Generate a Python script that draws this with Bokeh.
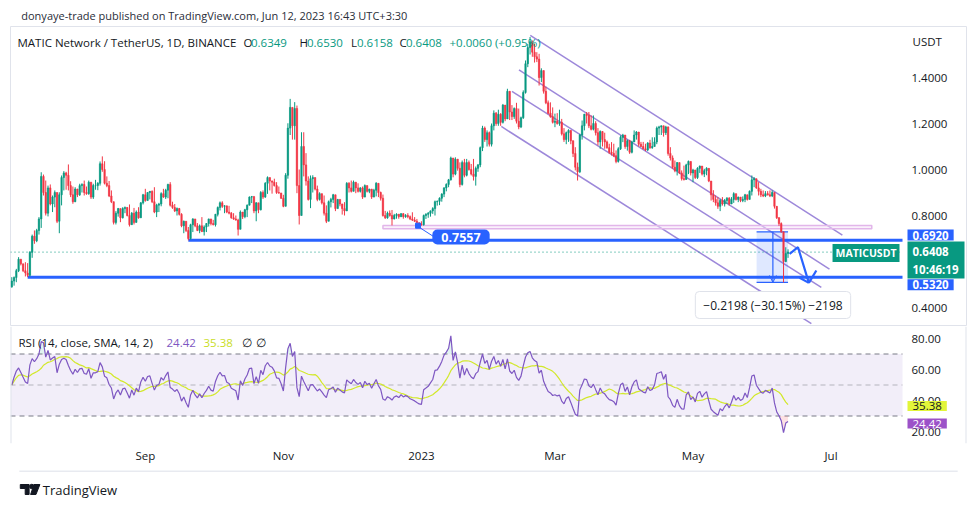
import numpy as np
import pandas as pd
from bokeh.plotting import figure
from bokeh.models import (Range1d, FixedTicker, NumeralTickFormatter, Label, Arrow,
                          OpenHead, ColumnDataSource)
from bokeh.layouts import column
from bokeh.embed import file_html
from bokeh.resources import INLINE

FONT = "Open Sans"
UP = "#089981"
DOWN = "#f23645"
BLUE = "#2962ff"
TXT = "#131722"
PURPLE = "#7e57c2"
YELLOW = "#d2e82a"
CHAN = "#9d88da"
FRAME_LINE = "#e0e3eb"

# ---------------- data (daily MATIC/USDT, 2022-07-04 .. 2023-06-12) ----------------
open_first = 0.49
close = [
    0.515, 0.53, 0.56, 0.61, 0.59, 0.56, 0.55, 0.54, 0.64, 0.71,
    0.69, 0.735, 0.785, 0.97, 0.90, 0.81, 0.92, 0.85, 0.88, 0.90,
    0.775, 0.89, 0.965, 0.985, 0.975, 0.93, 0.89, 0.86, 0.915, 0.89,
    0.93, 0.935, 0.90, 0.895, 0.945, 0.88, 0.93, 0.93, 0.94, 1.025,
    1.00, 0.94, 0.93, 0.885, 0.86, 0.77, 0.81, 0.83, 0.79, 0.83,
    0.835, 0.80, 0.76, 0.81, 0.77, 0.815, 0.79, 0.855, 0.89, 0.865,
    0.90, 0.905, 0.86, 0.815, 0.845, 0.85, 0.895, 0.88, 0.91, 0.935,
    0.845, 0.835, 0.82, 0.83, 0.805, 0.755, 0.775, 0.735, 0.70, 0.76,
    0.785, 0.755, 0.735, 0.755, 0.73, 0.75, 0.765, 0.785, 0.765, 0.76,
    0.805, 0.835, 0.855, 0.84, 0.842, 0.815, 0.81, 0.79, 0.785, 0.78,
    0.74, 0.815, 0.795, 0.825, 0.845, 0.88, 0.882, 0.82, 0.855, 0.825,
    0.90, 0.88, 0.94, 0.965, 0.95, 0.945, 0.93, 0.90, 0.898, 0.875,
    0.84, 0.975, 1.18, 1.27, 1.19, 1.265, 0.93, 0.80, 1.10, 1.02,
    0.95, 0.87, 0.96, 0.965, 0.915, 0.87, 0.895, 0.855, 0.81, 0.775,
    0.86, 0.87, 0.89, 0.83, 0.87, 0.85, 0.83, 0.82, 0.94, 0.92,
    0.905, 0.945, 0.92, 0.905, 0.92, 0.88, 0.93, 0.905, 0.915, 0.88,
    0.91, 0.94, 0.90, 0.875, 0.80, 0.79, 0.81, 0.80, 0.785, 0.80,
    0.805, 0.795, 0.808, 0.795, 0.80, 0.795, 0.785, 0.78, 0.775, 0.768,
    0.762, 0.76, 0.80, 0.805, 0.81, 0.82, 0.83, 0.86, 0.862, 0.875,
    0.893, 0.92, 0.935, 0.955, 1.05, 0.98, 1.045, 1.005, 0.935, 1.03,
    0.975, 1.03, 1.00, 0.98, 0.97, 1.005, 1.02, 1.095, 1.18, 1.13,
    1.16, 1.11, 1.19, 1.245, 1.20, 1.24, 1.205, 1.28, 1.22, 1.34,
    1.25, 1.23, 1.265, 1.21, 1.185, 1.225, 1.335, 1.46, 1.53, 1.555,
    1.51, 1.49, 1.48, 1.40, 1.43, 1.34, 1.29, 1.245, 1.23, 1.205,
    1.21, 1.20, 1.205, 1.155, 1.13, 1.16, 1.17, 1.125, 1.07, 1.01,
    0.99, 1.15, 1.19, 1.24, 1.235, 1.19, 1.175, 1.20, 1.16, 1.12,
    1.165, 1.13, 1.12, 1.095, 1.075, 1.07, 1.06, 1.035, 1.09, 1.14,
    1.15, 1.10, 1.125, 1.075, 1.12, 1.15, 1.163, 1.11, 1.10, 1.09,
    1.085, 1.115, 1.095, 1.10, 1.12, 1.18, 1.185, 1.19, 1.16, 1.185,
    1.07, 1.05, 1.01, 0.995, 1.03, 0.985, 0.96, 0.957, 1.02, 1.035,
    0.985, 0.998, 0.965, 1.005, 1.015, 0.98, 0.995, 1.005, 0.95, 0.89,
    0.87, 0.855, 0.84, 0.865, 0.85, 0.865, 0.875, 0.85, 0.87, 0.895,
    0.87, 0.88, 0.865, 0.87, 0.89, 0.87, 0.905, 0.955, 0.96, 0.92,
    0.905, 0.89, 0.885, 0.895, 0.89, 0.885, 0.90, 0.84, 0.79, 0.765,
    0.729, 0.60, 0.6349, 0.6408,
]
high = [
    0.532, 0.535, 0.568, 0.619, 0.607, 0.59, 0.597, 0.593, 0.645, 0.717,
    0.735, 0.742, 0.793, 0.988, 0.978, 0.952, 0.93, 0.935, 0.887, 0.909,
    0.883, 0.901, 0.974, 0.993, 0.99, 1.022, 0.949, 0.926, 0.923, 0.916,
    0.938, 0.94, 0.952, 0.926, 0.952, 0.945, 0.938, 0.955, 0.945, 1.035,
    1.057, 1.036, 0.97, 0.95, 0.909, 0.86, 0.819, 0.833, 0.822, 0.836,
    0.839, 0.836, 0.848, 0.815, 0.833, 0.822, 0.836, 0.858, 0.894, 0.916,
    0.901, 0.906, 0.909, 0.923, 0.851, 0.855, 0.901, 0.916, 0.916, 0.938,
    0.945, 0.86, 0.85, 0.835, 0.833, 0.81, 0.778, 0.771, 0.75, 0.764,
    0.788, 0.781, 0.767, 0.761, 0.793, 0.757, 0.767, 0.786, 0.781, 0.781,
    0.807, 0.839, 0.861, 0.862, 0.845, 0.836, 0.842, 0.815, 0.81, 0.80,
    0.786, 0.822, 0.81, 0.829, 0.848, 0.883, 0.885, 0.885, 0.858, 0.85,
    0.906, 0.909, 0.945, 0.97, 0.955, 0.952, 0.96, 0.945, 0.926, 0.894,
    0.89, 0.984, 1.201, 1.307, 1.27, 1.293, 1.278, 1.0, 1.162, 1.162,
    1.071, 0.97, 0.974, 0.975, 0.96, 0.93, 0.901, 0.895, 0.887, 0.844,
    0.865, 0.877, 0.894, 0.89, 0.872, 0.87, 0.851, 0.858, 0.945, 0.945,
    0.952, 0.952, 0.945, 0.94, 0.923, 0.926, 0.935, 0.93, 0.916, 0.912,
    0.916, 0.945, 0.94, 0.904, 0.891, 0.82, 0.817, 0.822, 0.824, 0.807,
    0.81, 0.807, 0.81, 0.81, 0.806, 0.81, 0.80, 0.814, 0.793, 0.785,
    0.77, 0.775, 0.804, 0.81, 0.815, 0.822, 0.836, 0.865, 0.865, 0.879,
    0.897, 0.923, 0.94, 0.959, 1.056, 1.046, 1.053, 1.045, 1.031, 1.039,
    1.046, 1.046, 1.039, 1.024, 1.046, 1.013, 1.024, 1.10, 1.19, 1.187,
    1.17, 1.165, 1.20, 1.257, 1.25, 1.26, 1.245, 1.285, 1.28, 1.351,
    1.34, 1.28, 1.27, 1.29, 1.265, 1.23, 1.344, 1.474, 1.546, 1.576,
    1.561, 1.546, 1.51, 1.503, 1.44, 1.43, 1.36, 1.30, 1.292, 1.27,
    1.243, 1.245, 1.26, 1.22, 1.18, 1.165, 1.175, 1.17, 1.126, 1.097,
    1.03, 1.155, 1.213, 1.242, 1.25, 1.25, 1.235, 1.235, 1.21, 1.18,
    1.17, 1.167, 1.16, 1.126, 1.112, 1.119, 1.112, 1.083, 1.097, 1.148,
    1.155, 1.15, 1.13, 1.129, 1.125, 1.17, 1.167, 1.16, 1.12, 1.12,
    1.112, 1.119, 1.129, 1.14, 1.14, 1.187, 1.19, 1.191, 1.184, 1.19,
    1.187, 1.097, 1.061, 1.039, 1.032, 1.025, 0.996, 1.017, 1.025, 1.039,
    1.03, 1.003, 0.988, 1.01, 1.017, 1.01, 1.003, 1.01, 0.99, 0.95,
    0.91, 0.887, 0.88, 0.872, 0.88, 0.872, 0.88, 0.88, 0.88, 0.901,
    0.887, 0.882, 0.88, 0.883, 0.894, 0.887, 0.909, 0.974, 0.967, 0.955,
    0.945, 0.916, 0.909, 0.906, 0.906, 0.909, 0.909, 0.894, 0.835, 0.793,
    0.77, 0.729, 0.662, 0.653,
]
low = [
    0.486, 0.495, 0.51, 0.554, 0.583, 0.554, 0.535, 0.532, 0.535, 0.616,
    0.677, 0.684, 0.717, 0.746, 0.887, 0.80, 0.796, 0.844, 0.815, 0.836,
    0.767, 0.723, 0.844, 0.909, 0.912, 0.909, 0.88, 0.851, 0.858, 0.88,
    0.885, 0.90, 0.887, 0.89, 0.89, 0.872, 0.872, 0.912, 0.91, 0.93,
    0.99, 0.935, 0.923, 0.88, 0.854, 0.761, 0.761, 0.795, 0.771, 0.787,
    0.81, 0.796, 0.752, 0.76, 0.761, 0.77, 0.786, 0.79, 0.848, 0.86,
    0.865, 0.87, 0.854, 0.81, 0.793, 0.815, 0.84, 0.877, 0.872, 0.875,
    0.839, 0.829, 0.815, 0.80, 0.80, 0.749, 0.723, 0.728, 0.692, 0.695,
    0.728, 0.749, 0.732, 0.723, 0.728, 0.713, 0.728, 0.752, 0.757, 0.757,
    0.752, 0.796, 0.822, 0.833, 0.81, 0.81, 0.805, 0.786, 0.781, 0.778,
    0.713, 0.74, 0.785, 0.788, 0.793, 0.844, 0.854, 0.81, 0.775, 0.81,
    0.822, 0.872, 0.877, 0.894, 0.909, 0.895, 0.926, 0.894, 0.894, 0.872,
    0.836, 0.84, 0.96, 1.15, 1.13, 1.13, 0.897, 0.761, 0.80, 0.97,
    0.93, 0.865, 0.832, 0.90, 0.909, 0.862, 0.865, 0.848, 0.80, 0.767,
    0.775, 0.835, 0.854, 0.819, 0.835, 0.84, 0.804, 0.80, 0.82, 0.90,
    0.90, 0.905, 0.897, 0.90, 0.90, 0.872, 0.89, 0.90, 0.897, 0.872,
    0.887, 0.883, 0.88, 0.865, 0.795, 0.785, 0.786, 0.795, 0.757, 0.783,
    0.786, 0.786, 0.793, 0.786, 0.79, 0.788, 0.78, 0.776, 0.772, 0.765,
    0.7557, 0.756, 0.756, 0.785, 0.79, 0.795, 0.807, 0.80, 0.843, 0.845,
    0.86, 0.88, 0.905, 0.923, 0.952, 0.966, 0.975, 0.995, 0.923, 0.93,
    0.966, 0.97, 0.995, 0.974, 0.952, 0.93, 0.99, 1.01, 1.08, 1.12,
    1.10, 1.10, 1.10, 1.17, 1.19, 1.19, 1.19, 1.20, 1.21, 1.22,
    1.215, 1.215, 1.22, 1.20, 1.175, 1.18, 1.22, 1.33, 1.445, 1.50,
    1.49, 1.465, 1.467, 1.365, 1.38, 1.33, 1.284, 1.24, 1.225, 1.20,
    1.184, 1.195, 1.19, 1.148, 1.12, 1.11, 1.12, 1.11, 1.054, 0.996,
    0.952, 0.985, 1.13, 1.17, 1.20, 1.18, 1.17, 1.17, 1.148, 1.105,
    1.09, 1.10, 1.09, 1.09, 1.068, 1.061, 1.054, 1.027, 1.03, 1.085,
    1.119, 1.09, 1.082, 1.068, 1.07, 1.12, 1.13, 1.10, 1.097, 1.088,
    1.08, 1.08, 1.09, 1.09, 1.10, 1.11, 1.15, 1.15, 1.143, 1.15,
    1.06, 1.039, 1.003, 0.988, 0.974, 0.98, 0.952, 0.952, 0.955, 0.98,
    0.974, 0.945, 0.959, 0.959, 0.985, 0.974, 0.967, 0.975, 0.945, 0.865,
    0.858, 0.843, 0.829, 0.819, 0.843, 0.839, 0.85, 0.843, 0.85, 0.855,
    0.865, 0.858, 0.858, 0.858, 0.858, 0.865, 0.87, 0.887, 0.923, 0.916,
    0.887, 0.88, 0.88, 0.88, 0.887, 0.88, 0.88, 0.83, 0.785, 0.755,
    0.725, 0.5092, 0.597, 0.6158,
]
# RSI values for the first 14 sessions
rsi_head = [50, 55, 59, 61, 58, 55, 52, 51, 63, 67, 65, 67, 70, 78]
rsi_last_text = "24.42"
rsi_ma_last_text = "35.38"

month_ticks = [59, 120, 181, 240, 301, 362]
month_labels = ["Sep", "Nov", "2023", "Mar", "May", "Jul"]
price_ticks = [0.4, 0.8, 1.0, 1.2, 1.4]
rsi_ticks = [20, 40, 60, 80]

level_upper, level_upper_start = 0.6920, 78
level_lower, level_lower_start = 0.5320, 7
last_price = 0.6408
note_price, note_index = 0.7557, 179.5
zone_bottom, zone_top, zone_start, zone_end = 0.742, 0.7565, 164, 380
measure_top, measure_bottom = 0.7290, 0.5092
measure_start, measure_end, measure_mid = 329.1, 343.0, 336.3
channel_x0 = [229.1, 224.1, 221.0, 216.3]
channel_y0 = [1.583, 1.433, 1.340, 1.187]
channel_x1 = [367.0, 361.3, 357.7, 353.3]
channel_y1 = [0.715, 0.567, 0.487, 0.330]
forecast_x = [343.7, 347.4, 352.2]
forecast_y = [0.6335, 0.662, 0.507]
forecast_barb_x = [[352.2, 355.5], [352.2, 348.1]]
forecast_barb_y = [[0.507, 0.561], [0.507, 0.529]]

# ---------------- derived series ----------------
n = len(close)
idx = np.arange(n)
cl = np.array(close)
op = np.array([open_first] + close[:-1])
hi = np.maximum.reduce([np.array(high), op, cl])
lo = np.minimum.reduce([np.array(low), op, cl])
col = np.where(cl >= op, UP, DOWN)

P = 14
d = np.diff(cl)
g = np.clip(d, 0, None)
l_ = np.clip(-d, 0, None)
rsi = np.zeros(n)
ag, al = g[:P].mean(), l_[:P].mean()
rsi[P] = 100 - 100 / (1 + ag / al)
for t in range(P + 1, n):
    ag = (ag * (P - 1) + g[t - 1]) / P
    al = (al * (P - 1) + l_[t - 1]) / P
    rsi[t] = 100 - 100 / (1 + ag / al) if al > 0 else 100.0
rsi[:P] = rsi_head
rsi_ma = pd.Series(rsi).rolling(P, min_periods=1).mean().values

# ---------------- geometry (screen px of the 976x506 page -> data) ----------------
PXD = 2.2631            # px per day
C0 = 11.3               # screen x of the first candle
FRAME_L, FRAME_R = 10, 966
X0 = (FRAME_L - C0) / PXD
X1 = (FRAME_R - C0) / PXD
HEAD_H = 26
PF_TOP, PF_H = 26, 300
RF_TOP, RF_H = 326, 117
AX_H = 27
FOOT_H = 28
AXIS_STANDOFF = -55


def fx(sx):
    return (sx - C0) / PXD


def fy(sy):
    return 0.4 + (307 - sy) / 230


def ry(sy):
    return 80 - (sy - 338) / 1.55


PY0, PY1 = fy(PF_TOP + PF_H), fy(PF_TOP)
RY0, RY1 = ry(RF_TOP + RF_H), ry(RF_TOP)
PLOT_END = fx(902)


def lab(fig, x, y, text, size="11.5px", color=TXT, bold=False, align="left",
        baseline="middle", bg=None, pad=None, radius=0, border=None):
    L = Label(x=x, y=y, text=text, text_font=FONT, text_font_size=size,
              text_color=color, text_font_style="bold" if bold else "normal",
              text_align=align, text_baseline=baseline)
    if bg is not None:
        L.background_fill_color = bg
    if pad is not None:
        L.padding = pad
    if radius:
        L.border_radius = radius
    if border is not None:
        L.border_line_color = border
    fig.add_layout(L)
    return L


def base_fig(**kw):
    f = figure(output_backend="svg", toolbar_location=None, **kw)
    f.grid.visible = False
    f.outline_line_color = None
    f.background_fill_color = "white"
    f.border_fill_color = "white"
    return f


def style_axis(ax, standoff):
    ax.axis_line_color = None
    ax.major_tick_line_color = None
    ax.minor_tick_line_color = None
    ax.major_tick_out = 0
    ax.major_tick_in = 0
    ax.minor_tick_out = 0
    ax.minor_tick_in = 0
    ax.major_label_text_font = FONT
    ax.major_label_text_font_size = "11.5px"
    ax.major_label_text_color = TXT
    ax.major_label_standoff = standoff


# ---------------- header ----------------
header = base_fig(width=976, height=HEAD_H, x_range=Range1d(0, 976), y_range=Range1d(HEAD_H, 0),
                  min_border=0, x_axis_location=None, y_axis_location=None)
lab(header, 11, 14.5, "donyaye-trade published on TradingView.com, Jun 12, 2023 16:43 UTC+3:30",
    size="11px", color="#2a2e39")

# ---------------- price pane ----------------
xr = Range1d(X0, X1)
price = base_fig(width=976, height=PF_H, x_range=xr, y_range=Range1d(PY0, PY1),
                 min_border_left=FRAME_L, min_border_right=976 - FRAME_R,
                 min_border_top=0, min_border_bottom=0,
                 x_axis_location=None, y_axis_location="right")
price.outline_line_color = FRAME_LINE
ya = price.yaxis[0]
ya.ticker = FixedTicker(ticks=price_ticks)
ya.formatter = NumeralTickFormatter(format="0.0000")
style_axis(ya, AXIS_STANDOFF)

# drawings behind candles
price.segment(x0=channel_x0, y0=channel_y0, x1=channel_x1, y1=channel_y1,
              line_color=CHAN, line_width=1.5)
price.quad(left=[zone_start], right=[zone_end], bottom=[zone_bottom], top=[zone_top],
           fill_color="#f6e4f8", fill_alpha=0.5, line_color="#e2b6ea", line_width=1.5)
price.segment(x0=[X0], y0=[last_price], x1=[PLOT_END], y1=[last_price], line_color=UP,
              line_dash="1 3", line_width=1)
price.segment(x0=[level_upper_start, level_lower_start], y0=[level_upper, level_lower],
              x1=[PLOT_END, PLOT_END], y1=[level_upper, level_lower], line_color=BLUE,
              line_width=3)
price.quad(left=[measure_start], right=[measure_end], bottom=[measure_bottom], top=[measure_top],
           fill_color=BLUE, fill_alpha=0.15, line_color=None)
price.segment(x0=[measure_start, measure_start], y0=[measure_top, measure_bottom],
              x1=[measure_end, measure_end], y1=[measure_top, measure_bottom],
              line_color=BLUE, line_width=1.2)
price.add_layout(Arrow(end=OpenHead(size=7, line_color=BLUE, line_width=1),
                       x_start=measure_mid, y_start=measure_top, x_end=measure_mid,
                       y_end=measure_bottom, line_color=BLUE, line_width=1.2))

# candles
src = ColumnDataSource(dict(x=idx, o=op, c=cl, h=hi, l=lo, color=col,
                            top=np.maximum(op, cl), bottom=np.minimum(op, cl)))
price.segment(x0="x", y0="l", x1="x", y1="h", line_color="color", line_width=1, source=src)
price.vbar(x="x", top="top", bottom="bottom", width=0.62, fill_color="color",
           line_color="color", line_width=0.6, source=src)

# forecast arrow
price.line(forecast_x, forecast_y, line_color=BLUE, line_width=2.2)
price.multi_line(forecast_barb_x, forecast_barb_y, line_color=BLUE, line_width=2.2)

# price note
price.segment(x0=[note_index], y0=[fy(226)], x1=[fx(433)], y1=[fy(236)],
              line_color=BLUE, line_width=1)
price.scatter([note_index], [note_price], marker="square", size=5, color=BLUE)
lab(price, fx(460.5), fy(236.5), f"{note_price:.4f}", size="12.5px", color="white",
    bold=True, align="center", bg=BLUE, pad=dict(left=9, right=9, top=3, bottom=3), radius=5)

# measure label
lab(price, fx(772.5), fy(304.5), "\u22120.2198 (\u221230.15%) \u22122198", size="12px",
    align="center", bg="white", border="#dfe2ea",
    pad=dict(left=8, right=8, top=5, bottom=5), radius=4)

# legend line
lab(price, fx(17), fy(42), "MATIC Network / TetherUS, 1D, BINANCE")
leg = [(243, "O", TXT), (250.5, "0.6349", UP), (299, "H", TXT), (306.5, "0.6530", UP),
       (350.5, "L", TXT), (356.5, "0.6158", UP), (399, "C", TXT), (405.5, "0.6408", UP),
       (449, "+0.0060 (+0.95%)", UP)]
for sx, t, c in leg:
    lab(price, fx(sx), fy(42), t, color=c)

# price-scale tags
lab(price, fx(912), fy(41), "USDT")
lab(price, fx(899), fy(252.5), "MATICUSDT", size="10.5px", color="white", bold=True,
    align="right", bg=UP, pad=dict(left=3, right=3, top=2, bottom=2))
lab(price, fx(907), fy(234.5), f"{level_upper:.4f}", color="white", bold=True, bg=BLUE,
    pad=dict(left=5, right=5, top=1, bottom=1))
lab(price, fx(907), fy(284.2), f"{level_lower:.4f}", color="white", bold=True, bg=BLUE,
    pad=dict(left=5, right=5, top=1, bottom=1))
lab(price, fx(907), fy(259.5), f"{last_price:.4f}\n10:46:19", color="white", bold=True,
    bg=UP, pad=dict(left=5, right=6, top=2, bottom=2))

# ---------------- RSI pane ----------------
rp = base_fig(width=976, height=RF_H + AX_H, x_range=xr, y_range=Range1d(RY0, RY1),
              min_border_left=FRAME_L, min_border_right=976 - FRAME_R,
              min_border_top=0, min_border_bottom=AX_H, y_axis_location="right")
ra = rp.yaxis[0]
ra.ticker = FixedTicker(ticks=rsi_ticks)
ra.formatter = NumeralTickFormatter(format="0.00")
style_axis(ra, AXIS_STANDOFF)
xa = rp.xaxis[0]
style_axis(xa, 4)
xa.ticker = FixedTicker(ticks=month_ticks)
xa.major_label_overrides = dict(zip(month_ticks, month_labels))

rp.quad(left=[X0], right=[PLOT_END], bottom=[30], top=[70], fill_color=PURPLE,
        fill_alpha=0.1, line_color=None)
for lvl, a in ((70, 1.0), (50, 0.5), (30, 1.0)):
    rp.segment(x0=[X0], y0=[lvl], x1=[PLOT_END], y1=[lvl], line_color="#787b86",
               line_alpha=a, line_dash="5 4", line_width=1)
rp.varea(x=idx, y1=np.minimum(rsi, 30), y2=30, fill_color=DOWN, fill_alpha=0.15)
rp.varea(x=idx, y1=70, y2=np.maximum(rsi, 70), fill_color=UP, fill_alpha=0.12)
rp.line(idx, rsi_ma, line_color=YELLOW, line_width=1.2)
rp.line(idx, rsi, line_color=PURPLE, line_width=1.2)
rp.segment(x0=[X0, X1], y0=[RY0, RY0], x1=[X0, X1], y1=[RY1, RY1], line_color=FRAME_LINE,
           line_width=2)

lab(rp, fx(18), ry(342), "RSI (14, close, SMA, 14, 2)")
lab(rp, fx(166), ry(342), rsi_last_text, color=PURPLE)
lab(rp, fx(203), ry(342), rsi_ma_last_text, color="#c9dd1f")
lab(rp, fx(241), ry(342), "\u2205", color=TXT)
lab(rp, fx(255), ry(342), "\u2205", color=TXT)

lab(rp, fx(907), ry(405.5), rsi_ma_last_text, color=TXT, bg="#e2f53a",
    pad=dict(left=5, right=5, top=1, bottom=1))
lab(rp, fx(907), ry(423), rsi_last_text, color="white", bg="#9c52c8",
    pad=dict(left=5, right=5, top=1, bottom=1))

# ---------------- footer ----------------
footer = base_fig(width=976, height=FOOT_H, x_range=Range1d(0, 976), y_range=Range1d(FOOT_H, 0),
                  min_border=0, x_axis_location=None, y_axis_location=None)
footer.segment(x0=[9], y0=[0.5], x1=[967], y1=[0.5], line_color=FRAME_LINE, line_width=1.5)
footer.patch([10, 19, 19, 15, 15, 10], [14, 14, 24, 24, 18, 18], color=TXT)
footer.scatter([21.8], [16], marker="circle", size=4.5, color=TXT)
footer.patch([24, 30, 26, 20.5], [14, 14, 24, 24], color=TXT)
lab(footer, 33, 19, "TradingView", size="13px", color=TXT)

layout = column(header, price, rp, footer, spacing=0)

with open("out.html", "w") as fh:
    fh.write(file_html(layout, INLINE, "MATICUSDT"))
